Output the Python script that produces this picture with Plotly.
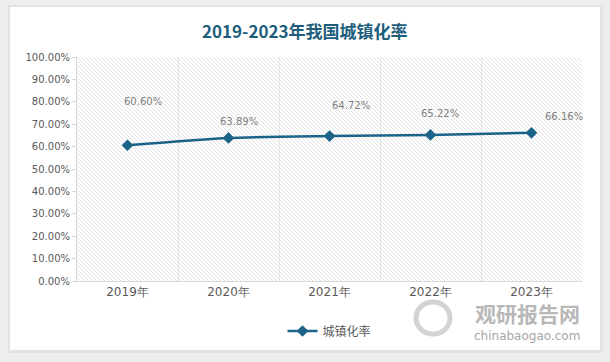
import base64
import plotly.graph_objects as go

years = ["2019年", "2020年", "2021年", "2022年", "2023年"]
rates = [0.6060, 0.6389, 0.6472, 0.6522, 0.6616]
label_dx = [15, 10, 21, 9, 32]      # label offsets (px) as placed in reference
label_dy = [-44, -16, -31, -21, -16]
series_name = "城镇化率"
title_text = "2019-2023年我国城镇化率"

L, R, T, B = 77, 28, 57, 81
W, H = 610, 362
PW, PH = W - L - R, H - T - B

def px2x(px):
    return (px - L) / PW

def py2y(py):
    return (H - B - py) / PH

line_color = "#1c6389"

# hatched plot background (svg pattern)
svg = f'''<svg xmlns="http://www.w3.org/2000/svg" width="{PW}" height="{PH}" viewBox="0 0 {PW} {PH}">
<defs><pattern id="p" patternUnits="userSpaceOnUse" width="4" height="4">
<path d="M-1,-1 L5,5 M-1,3 L1,5 M3,-1 L5,1" stroke="#dadada" stroke-width="0.8"/>
</pattern></defs>
<rect width="{PW}" height="{PH}" fill="white"/>
<rect width="{PW}" height="{PH}" fill="url(#p)"/>
</svg>'''
src = "data:image/svg+xml;base64," + base64.b64encode(svg.encode()).decode()

fig = go.Figure()
fig.add_trace(go.Scatter(
    x=years, y=rates, mode="lines+markers", name=series_name,
    line=dict(color=line_color, width=2.5, shape="spline", smoothing=0.6),
    marker=dict(symbol="diamond", size=9, color=line_color),
))

annotations = []
for yr, v, dx, dy in zip(years, rates, label_dx, label_dy):
    annotations.append(dict(
        x=yr, y=v, xref="x", yref="y", text=f"{v*100:.2f}%", showarrow=False,
        xshift=dx, yshift=-dy, font=dict(family="DejaVu Sans", size=10, color="#7f7f7f"),
    ))

# title
annotations.append(dict(
    x=px2x(305), y=py2y(30), xref="paper", yref="paper", text=f"<b>{title_text}</b>",
    showarrow=False, font=dict(family="Noto Sans CJK SC", size=17, color="#1e5e7c"),
    xanchor="center", yanchor="middle",
))
# watermark
annotations.append(dict(
    x=px2x(527), y=py2y(313), xref="paper", yref="paper", text="<b>观研报告网</b>",
    showarrow=False, font=dict(family="Noto Sans CJK SC", size=21, color="#b8b8b8"),
    xanchor="center", yanchor="middle",
))
annotations.append(dict(
    x=px2x(527), y=py2y(336), xref="paper", yref="paper", text="chinabaogao.com",
    showarrow=False, font=dict(family="DejaVu Sans", size=12, color="#a6a6a6"),
    xanchor="center", yanchor="middle",
))

shapes = [
    # card shadow and card
    dict(type="rect", xref="paper", yref="paper", layer="below",
         x0=px2x(8), x1=px2x(603), y0=py2y(353), y1=py2y(5),
         fillcolor="#e3e3e3", line=dict(width=0)),
    dict(type="rect", xref="paper", yref="paper", layer="below",
         x0=px2x(10), x1=px2x(600), y0=py2y(350), y1=py2y(7),
         fillcolor="white", line=dict(width=0)),
    # watermark logo (ring)
    dict(type="circle", xref="paper", yref="paper", layer="above",
         x0=px2x(416), x1=px2x(450), y0=py2y(334), y1=py2y(302),
         fillcolor="rgba(0,0,0,0)", line=dict(color="#d3d3d3", width=5)),
]

fig.update_layout(
    width=W, height=H,
    margin=dict(l=L, r=R, t=T, b=B, autoexpand=False),
    paper_bgcolor="#eeeeee", plot_bgcolor="white",
    showlegend=True,
    legend=dict(orientation="h", x=0.5, xanchor="center", y=py2y(331), yanchor="middle",
                font=dict(family="Noto Sans CJK SC", size=12, color="#595959"),
                bgcolor="rgba(0,0,0,0)"),
    annotations=annotations, shapes=shapes,
    images=[dict(source=src, xref="x domain", yref="y domain", x=0, y=1, sizex=1, sizey=1,
                 xanchor="left", yanchor="top", sizing="stretch", layer="below")],
    xaxis=dict(type="category", tickson="boundaries", showgrid=True, gridcolor="#e4e4e4",
               gridwidth=1, ticks="", showline=True, linecolor="#d9d9d9",
               tickfont=dict(family="DejaVu Sans", size=12, color="#595959"),
               range=[-0.5, 4.5], zeroline=False),
    yaxis=dict(range=[0, 1], dtick=0.1, tickformat=".2%", showgrid=False, zeroline=False,
               showline=True, linecolor="#d9d9d9", ticks="outside", ticklen=4,
               tickcolor="#d9d9d9",
               tickfont=dict(family="DejaVu Sans", size=10, color="#595959")),
)

fig.write_html("out.html", config={"displayModeBar": False},
               post_script="document.body.style.margin='0';")
